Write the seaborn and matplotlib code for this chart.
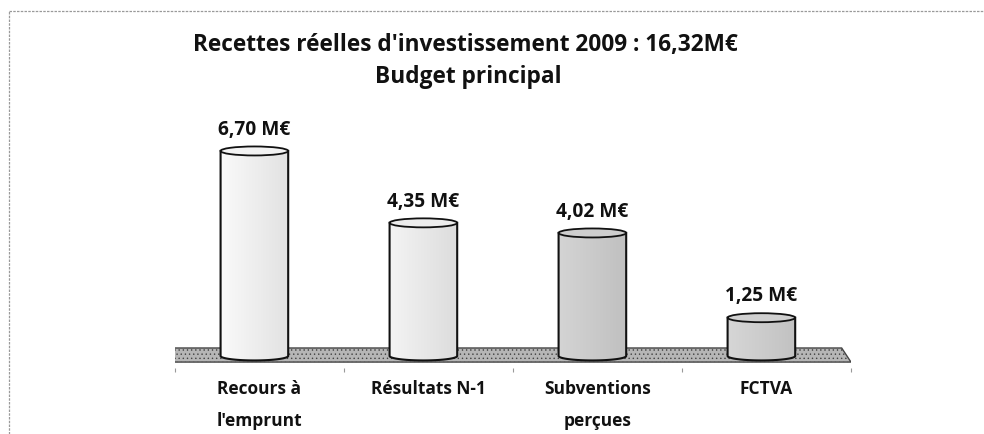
import numpy as np
import pandas as pd
import matplotlib
matplotlib.use('Agg')
import matplotlib.pyplot as plt
import seaborn as sns
from matplotlib.patches import Ellipse, Polygon, PathPatch
from matplotlib.path import Path
from matplotlib.lines import Line2D
from matplotlib.colors import to_rgb

categories = ["Recours à\nl'emprunt", "Résultats N-1", "Subventions\nperçues", "FCTVA"]
values = [6.70, 4.35, 4.02, 1.25]
value_labels = ["6,70 M€", "4,35 M€", "4,02 M€", "1,25 M€"]
title_line1 = "Recettes réelles d'investissement 2009 : 16,32M€"
title_line2 = "Budget principal"
bar_colors = ['#eeeeee', '#e8e8e8', '#cacaca', '#cccccc']

sns.set_theme(style='white')
plt.rcParams['font.family'] = ['Open Sans', 'DejaVu Sans']
plt.rcParams['hatch.color'] = '#8a8a8a'
plt.rcParams['hatch.linewidth'] = 0.5

fig = plt.figure(figsize=(9.84, 4.35), dpi=100)
ax = fig.add_axes([0.1778, 0.1513, 0.687, 0.5908])
df = pd.DataFrame({'cat': categories, 'val': values})
sns.barplot(data=df, x='cat', y='val', hue='cat', palette=bar_colors, width=0.4,
            legend=False, ax=ax, edgecolor='none', saturation=1, zorder=2)

n = len(categories)
ax.set_xlim(-0.5, n - 0.5)
ax.set_ylim(-0.4, 8.0)
fig.canvas.draw()
ppu = ax.transData.transform((0, 1))[1] - ax.transData.transform((0, 0))[1]
eh = 9.0 / ppu  # ellipse height in data units

# floor
floor = Polygon([(-0.5, -0.2), (n - 0.5, -0.2), (n - 0.5 - 0.055, 0.26), (-0.5 - 0.065, 0.26)],
                closed=True, facecolor='#b6b6b6', edgecolor='#444444', lw=1.0,
                hatch='....', zorder=1)
ax.add_patch(floor)

shift = -0.03  # cylinders sit slightly left of the category centres
for p, col, lab in zip(ax.patches[:n], bar_colors, value_labels):
    x0, w, h = p.get_x() + shift, p.get_width(), p.get_height()
    p.set_visible(False)
    cx = x0 + w / 2
    ang = np.linspace(np.pi, 2 * np.pi, 40)
    arc = [(cx + w / 2 * np.cos(a), eh / 2 * np.sin(a)) for a in ang]
    verts = [(x0, h), (x0, 0)] + arc + [(x0 + w, h), (x0, h)]
    codes = [Path.MOVETO] + [Path.LINETO] * (len(verts) - 2) + [Path.CLOSEPOLY]
    body = PathPatch(Path(verts, codes), facecolor='none', edgecolor='#111111', lw=1.5, zorder=4)
    ax.add_patch(body)
    base = np.array(to_rgb(col))
    t = np.linspace(0, 1, 120)
    shade = 1.05 - 0.10 * t
    grad = np.clip(base[None, None, :] * shade[None, :, None], 0, 1)
    im = ax.imshow(grad, extent=[x0, x0 + w, -eh, h], aspect='auto', zorder=3,
                   interpolation='bicubic')
    im.set_clip_path(body)
    top = Ellipse((cx, h), w, eh, facecolor=np.clip(base * 1.02, 0, 1),
                  edgecolor='#111111', lw=1.3, zorder=5)
    ax.add_patch(top)
    ax.annotate(lab, (cx, h), xytext=(0, 16), textcoords='offset points',
                ha='center', va='center', fontsize=13.8, fontweight='bold', color='#111111')

ax.set_xlim(-0.5, n - 0.5)
ax.set_ylim(-0.4, 8.0)
ax.set_aspect('auto')
ax.set_xlabel('')
ax.set_ylabel('')
ax.set_yticks([])
ax.set_xticks(range(n))
ax.set_xticklabels(categories, fontsize=12.5, fontweight='bold', color='#111111', linespacing=2.0)
ax.set_xticks(np.arange(-0.5, n, 1.0), minor=True)
ax.tick_params(axis='x', which='major', length=0, pad=8)
ax.tick_params(axis='x', which='minor', length=3, width=0.8, color='#999999', bottom=True)
for s in ax.spines.values():
    s.set_visible(False)
ax.patch.set_visible(False)

fig.text(0.473, 1 - 45 / 435, title_line1, ha='center', va='center', fontsize=16.3,
         fontweight='bold', color='#111111')
fig.text(0.476, 1 - 77 / 435, title_line2, ha='center', va='center', fontsize=16.3,
         fontweight='bold', color='#111111')

fig.add_artist(Line2D([9 / 984, 1], [1 - 12 / 435] * 2, transform=fig.transFigure,
                      color='#9a9a9a', lw=0.9, ls=(0, (2, 1))))
fig.add_artist(Line2D([9 / 984, 9 / 984], [0, 1 - 12 / 435], transform=fig.transFigure,
                      color='#9a9a9a', lw=0.9, ls=(0, (2, 1))))

fig.savefig('out.png', dpi=100)
